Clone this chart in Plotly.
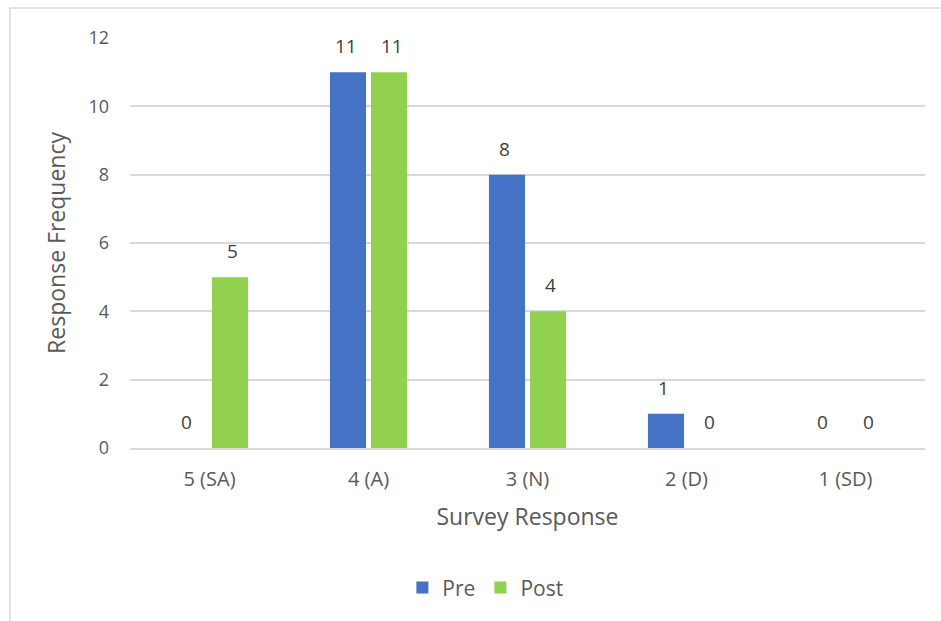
import plotly.graph_objects as go

# Survey response counts before and after
categories = ["5 (SA)", "4 (A)", "3 (N)", "2 (D)", "1 (SD)"]
pre_counts = [0, 11, 8, 1, 0]
post_counts = [5, 11, 4, 0, 0]
y_ticks = [0, 2, 4, 6, 8, 10, 12]

PRE_COLOR = "#4472C4"
POST_COLOR = "#92D050"
TEXT_COLOR = "#595959"
GRID_COLOR = "#D9D9D9"
FONT = "'Open Sans', sans-serif"

fig = go.Figure()
fig.add_trace(go.Bar(name="Pre", x=categories, y=pre_counts,
                     marker=dict(color=PRE_COLOR, line=dict(width=0))))
fig.add_trace(go.Bar(name="Post", x=categories, y=post_counts,
                     marker=dict(color=POST_COLOR, line=dict(width=0))))

# value labels above each bar
for series, shift in ((pre_counts, -23), (post_counts, 23)):
    for cat, val in zip(categories, series):
        fig.add_annotation(
            x=cat, y=val, text=str(val), showarrow=False,
            xshift=shift, yshift=26, yanchor="middle",
            font=dict(family=FONT, size=19, color="#404040"),
        )

# outer chart border
fig.add_shape(
    type="rect", xref="paper", yref="paper",
    x0=-0.151, x1=1.1, y0=-0.5, y1=1.073,
    line=dict(color=GRID_COLOR, width=1.5), fillcolor="rgba(0,0,0,0)",
    layer="below",
)

fig.update_layout(
    width=941, height=621,
    margin=dict(l=130, r=16, t=38, b=173),
    paper_bgcolor="white", plot_bgcolor="white",
    barmode="group", bargap=0.484, bargroupgap=0.12,
    font=dict(family=FONT, size=18, color=TEXT_COLOR),
    showlegend=True,
    legend=dict(
        orientation="h", x=0.447, xanchor="center", y=-0.341, yanchor="middle",
        font=dict(size=21, color=TEXT_COLOR), itemwidth=30,
    ),
    xaxis=dict(
        title=dict(text="Survey Response", font=dict(size=23, color=TEXT_COLOR), standoff=18),
        showgrid=False, showline=True, linecolor=GRID_COLOR, linewidth=1.5,
        ticks="", tickfont=dict(size=20, color=TEXT_COLOR), ticklabelstandoff=12,
    ),
    yaxis=dict(
        title=dict(text="Response Frequency", font=dict(size=23, color=TEXT_COLOR), standoff=16),
        range=[0, 12], tickvals=y_ticks, showgrid=True, gridcolor=GRID_COLOR, gridwidth=1.5,
        zeroline=False, showline=False, ticks="",
        tickfont=dict(size=18, color=TEXT_COLOR), ticklabelstandoff=20,
    ),
)

fig.write_html("out.html")
